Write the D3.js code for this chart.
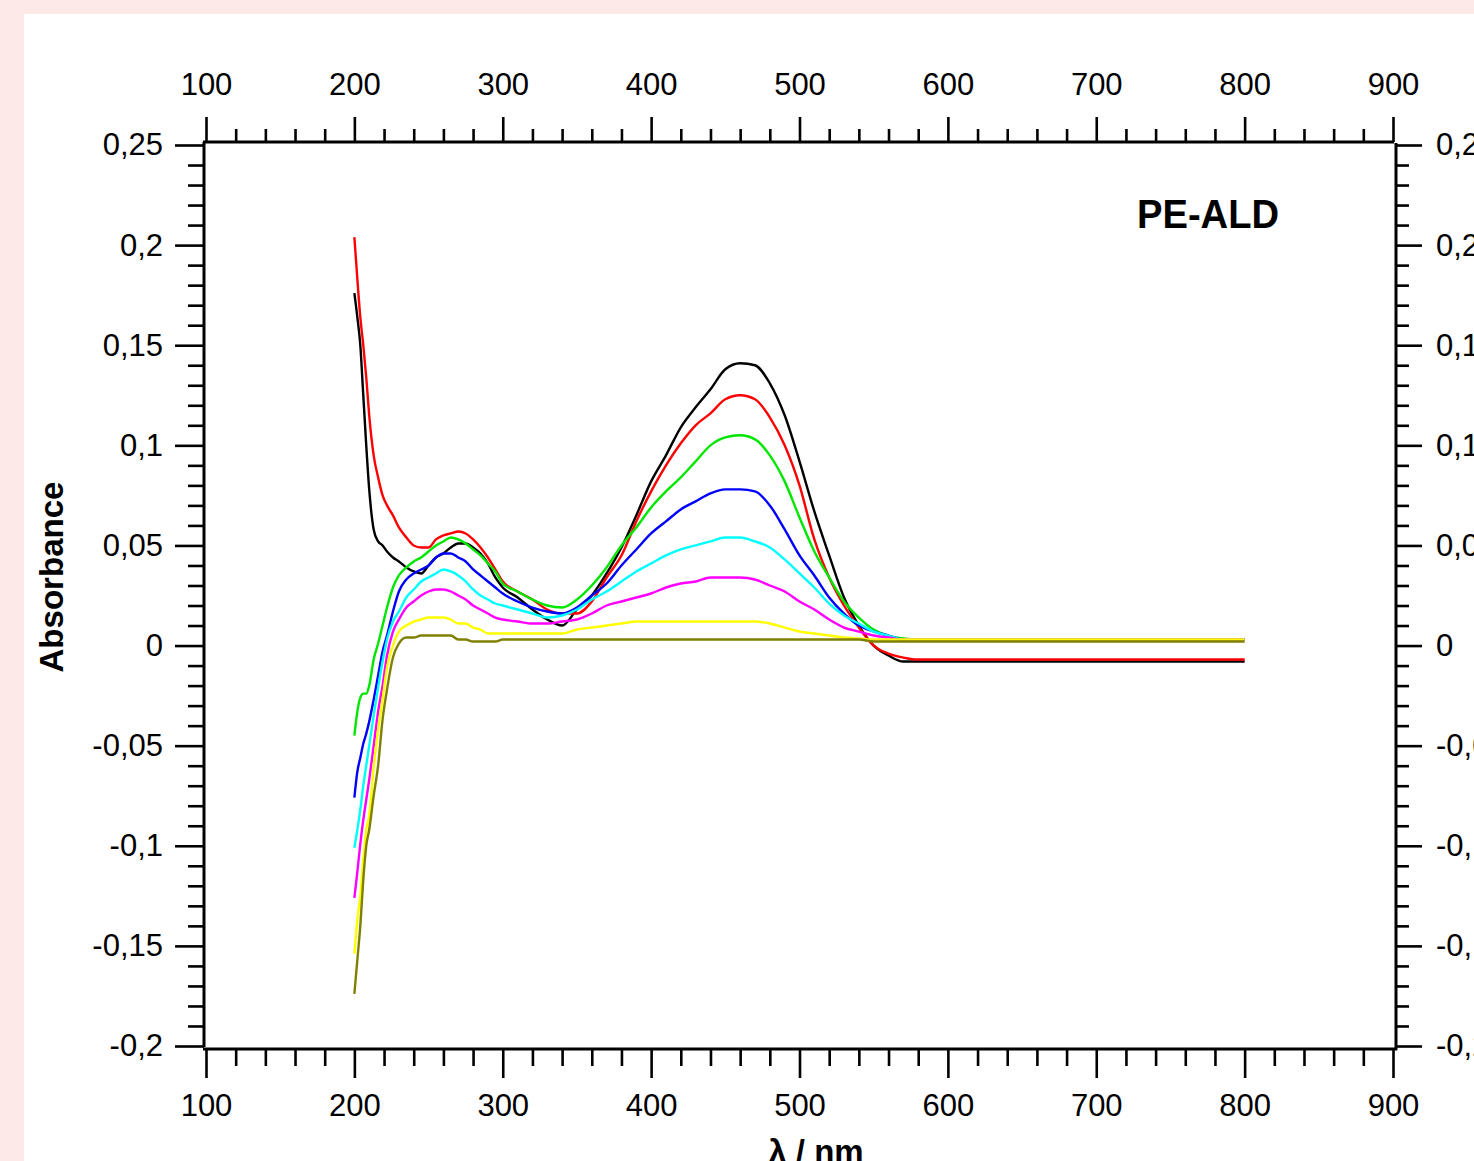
<!DOCTYPE html>
<html>
<head>
<meta charset="utf-8">
<script src="https://cdn.jsdelivr.net/npm/d3@7"></script>
<style>
  html, body { margin: 0; padding: 0; background: #fdeae8; }
  svg { display: block; }
</style>
</head>
<body>
<svg id="chart" width="1474" height="1161"></svg>
<script>
// ---------------- data ----------------
const wavelength = [200,202,204,206,208,210,213,216,219,222,226,230,235,240,245,250,255,260,265,270,275,280,285,290,295,300,
  310,320,330,340,350,360,370,380,390,400,410,420,430,440,450,460,470,480,490,500,510,520,530,540,550,560,570,580,
  600,650,700,750,800];

const seriesBlack = [0.176,0.164,0.150,0.125,0.100,0.078,0.058,0.052,0.050,0.047,0.044,0.042,0.039,0.037,0.036,0.040,0.044,0.046,0.049,0.051,0.051,0.049,0.046,0.041,0.034,0.029,
  0.024,0.018,0.013,0.010,0.018,0.025,0.036,0.049,0.065,0.082,0.095,0.109,0.119,0.128,0.138,0.141,0.140,0.131,0.115,0.092,0.067,0.045,0.024,0.010,0.000,-0.005,-0.008,-0.008,
  -0.008,-0.008,-0.008,-0.008,-0.008];
const seriesRed = [0.204,0.183,0.164,0.150,0.134,0.115,0.095,0.084,0.075,0.070,0.065,0.059,0.054,0.050,0.049,0.049,0.053,0.055,0.056,0.057,0.056,0.053,0.049,0.044,0.038,0.032,
  0.027,0.023,0.018,0.016,0.016,0.022,0.034,0.045,0.062,0.077,0.090,0.101,0.110,0.116,0.123,0.125,0.123,0.114,0.100,0.080,0.053,0.034,0.020,0.009,0.000,-0.004,-0.006,-0.007,
  -0.007,-0.007,-0.007,-0.007,-0.007];
const seriesGreen = [-0.045,-0.033,-0.026,-0.024,-0.024,-0.020,-0.007,0.001,0.010,0.019,0.029,0.035,0.039,0.042,0.044,0.047,0.050,0.052,0.054,0.053,0.051,0.048,0.045,0.041,0.037,0.031,
  0.027,0.023,0.020,0.019,0.023,0.030,0.039,0.050,0.059,0.069,0.077,0.084,0.092,0.100,0.104,0.105,0.103,0.095,0.082,0.064,0.047,0.034,0.022,0.014,0.008,0.005,0.0035,0.003,
  0.003,0.003,0.003,0.003,0.003];
const seriesBlue = [-0.076,-0.063,-0.056,-0.049,-0.044,-0.038,-0.027,-0.015,-0.003,0.005,0.017,0.027,0.033,0.036,0.038,0.040,0.044,0.046,0.046,0.044,0.042,0.038,0.035,0.032,0.029,0.026,
  0.022,0.019,0.017,0.016,0.019,0.025,0.031,0.040,0.048,0.056,0.062,0.068,0.072,0.076,0.078,0.078,0.077,0.070,0.058,0.045,0.035,0.024,0.016,0.010,0.007,0.005,0.003,0.003,
  0.003,0.003,0.003,0.003,0.003];
const seriesCyan = [-0.101,-0.092,-0.082,-0.070,-0.060,-0.050,-0.035,-0.021,-0.008,0.003,0.012,0.017,0.024,0.028,0.032,0.034,0.036,0.038,0.037,0.035,0.032,0.028,0.025,0.023,0.021,0.020,
  0.018,0.016,0.014,0.015,0.018,0.023,0.027,0.032,0.037,0.041,0.045,0.048,0.050,0.052,0.054,0.054,0.052,0.049,0.043,0.036,0.029,0.021,0.015,0.011,0.007,0.005,0.003,0.003,
  0.003,0.003,0.003,0.003,0.003];
const seriesMagenta = [-0.126,-0.113,-0.099,-0.087,-0.077,-0.067,-0.050,-0.033,-0.020,-0.005,0.007,0.013,0.019,0.022,0.025,0.027,0.028,0.028,0.027,0.025,0.023,0.020,0.018,0.016,0.014,0.013,
  0.012,0.011,0.011,0.012,0.013,0.016,0.020,0.022,0.024,0.026,0.029,0.031,0.032,0.034,0.034,0.034,0.033,0.030,0.027,0.022,0.018,0.013,0.009,0.007,0.005,0.004,0.003,0.003,
  0.003,0.003,0.003,0.003,0.003];
const seriesYellow = [-0.154,-0.137,-0.125,-0.107,-0.092,-0.085,-0.061,-0.042,-0.027,-0.011,0.000,0.007,0.010,0.012,0.013,0.014,0.014,0.014,0.013,0.011,0.011,0.009,0.008,0.006,0.006,0.006,
  0.006,0.006,0.006,0.006,0.008,0.009,0.010,0.011,0.012,0.012,0.012,0.012,0.012,0.012,0.012,0.012,0.012,0.011,0.009,0.007,0.006,0.005,0.004,0.0035,0.003,0.003,0.003,0.003,
  0.003,0.003,0.003,0.003,0.003];
const seriesOlive = [-0.174,-0.157,-0.140,-0.117,-0.100,-0.092,-0.075,-0.060,-0.037,-0.022,-0.006,0.001,0.004,0.004,0.005,0.005,0.005,0.005,0.005,0.003,0.003,0.002,0.002,0.002,0.002,0.003,
  0.003,0.003,0.003,0.003,0.003,0.003,0.003,0.003,0.003,0.003,0.003,0.003,0.003,0.003,0.003,0.003,0.003,0.003,0.003,0.003,0.003,0.003,0.003,0.003,0.002,0.002,0.002,0.002,
  0.002,0.002,0.002,0.002,0.002];

const seriesNames = ["black","red","green","blue","cyan","magenta","yellow","olive"];
const seriesColors = ["#000000","#ff0000","#00e600","#0000ff","#00ffff","#ff00ff","#ffff00","#808000"];
const seriesValues = [seriesBlack, seriesRed, seriesGreen, seriesBlue, seriesCyan, seriesMagenta, seriesYellow, seriesOlive];

const xTicks = [100,200,300,400,500,600,700,800,900];
const yTicks = [-0.2,-0.15,-0.1,-0.05,0,0.05,0.1,0.15,0.2,0.25];
const yTickLabels = ["-0,2","-0,15","-0,1","-0,05","0","0,05","0,1","0,15","0,2","0,25"];

const yTitle = "Absorbance";
const xTitle = "λ / nm";
const sampleLabel = "PE-ALD";

// ---------------- drawing ----------------
const svg = d3.select("#chart");
svg.append("rect").attr("x",0).attr("y",0).attr("width",1474).attr("height",1161).attr("fill","#fdeae8");
svg.append("rect").attr("x",24).attr("y",14).attr("width",1450).attr("height",1147).attr("fill","#ffffff");

const x = d3.scaleLinear().domain([100,900]).range([206,1393]);
const y = d3.scaleLinear().domain([-0.2,0.25]).range([1046,145]);

const xMinor = d3.range(100,901,20).filter(v => v % 100 !== 0);
const yMinor = d3.range(-20,26).filter(i => i % 5 !== 0).map(i => i/100);
const yFmt = d => yTickLabels[yTicks.findIndex(t => Math.abs(t-d) < 1e-9)];

const FONT = "'Liberation Sans', Arial, sans-serif";
const LABEL_SIZE = 31;

function styleAxis(g) {
  g.select(".domain").remove();
  g.selectAll(".tick line").attr("stroke","#000").attr("stroke-width",2.6);
  g.selectAll(".tick text").attr("fill","#000").style("font-family",FONT).style("font-size",LABEL_SIZE+"px");
}

// top
svg.append("g").attr("transform","translate(0,142)")
  .call(d3.axisTop(x).tickValues(xMinor).tickSize(13).tickFormat("")).call(styleAxis);
svg.append("g").attr("transform","translate(0,142)")
  .call(d3.axisTop(x).tickValues(xTicks).tickSize(25).tickPadding(22).tickFormat(d3.format("d"))).call(styleAxis);
// bottom
svg.append("g").attr("transform","translate(0,1049)")
  .call(d3.axisBottom(x).tickValues(xMinor).tickSize(17).tickFormat("")).call(styleAxis);
svg.append("g").attr("transform","translate(0,1049)")
  .call(d3.axisBottom(x).tickValues(xTicks).tickSize(29).tickPadding(16).tickFormat(d3.format("d"))).call(styleAxis);
// left
svg.append("g").attr("transform","translate(204,0)")
  .call(d3.axisLeft(y).tickValues(yMinor).tickSize(16).tickFormat("")).call(styleAxis);
svg.append("g").attr("transform","translate(204,0)")
  .call(d3.axisLeft(y).tickValues(yTicks).tickSize(29).tickPadding(12).tickFormat(yFmt)).call(styleAxis);
// right
svg.append("g").attr("transform","translate(1396,0)")
  .call(d3.axisRight(y).tickValues(yMinor).tickSize(13).tickFormat("")).call(styleAxis);
svg.append("g").attr("transform","translate(1396,0)")
  .call(d3.axisRight(y).tickValues(yTicks).tickSize(26).tickPadding(14).tickFormat(yFmt)).call(styleAxis);

// axis lines
const frame = svg.append("g").attr("stroke","#000").attr("stroke-width",3);
frame.append("line").attr("x1",203).attr("x2",1394).attr("y1",142).attr("y2",142);
frame.append("line").attr("x1",203).attr("x2",1397).attr("y1",1049).attr("y2",1049);
frame.append("line").attr("x1",204).attr("x2",204).attr("y1",142).attr("y2",1047);
frame.append("line").attr("x1",1396).attr("x2",1396).attr("y1",143).attr("y2",1050);

// series
const line = d3.line()
  .x((d,i) => x(wavelength[i]))
  .y(d => y(d))
  .curve(d3.curveMonotoneX);

svg.append("g").selectAll("path")
  .data(seriesValues)
  .join("path")
  .attr("d", d => line(d))
  .attr("fill","none")
  .attr("stroke",(d,i) => seriesColors[i])
  .attr("stroke-width",2.4)
  .attr("stroke-linejoin","round");

// titles
svg.append("text")
  .attr("transform","translate(63,577) rotate(-90)")
  .attr("text-anchor","middle")
  .style("font-family",FONT).style("font-weight","bold").style("font-size","33px")
  .attr("textLength",191).attr("lengthAdjust","spacingAndGlyphs")
  .text(yTitle);

svg.append("text")
  .attr("x",816).attr("y",1163)
  .attr("text-anchor","middle")
  .style("font-family",FONT).style("font-weight","bold").style("font-size","33px")
  .text(xTitle);

svg.append("text")
  .attr("x",1137).attr("y",228)
  .style("font-family",FONT).style("font-weight","bold").style("font-size","41px")
  .attr("textLength",142).attr("lengthAdjust","spacingAndGlyphs")
  .text(sampleLabel);
</script>
</body>
</html>
